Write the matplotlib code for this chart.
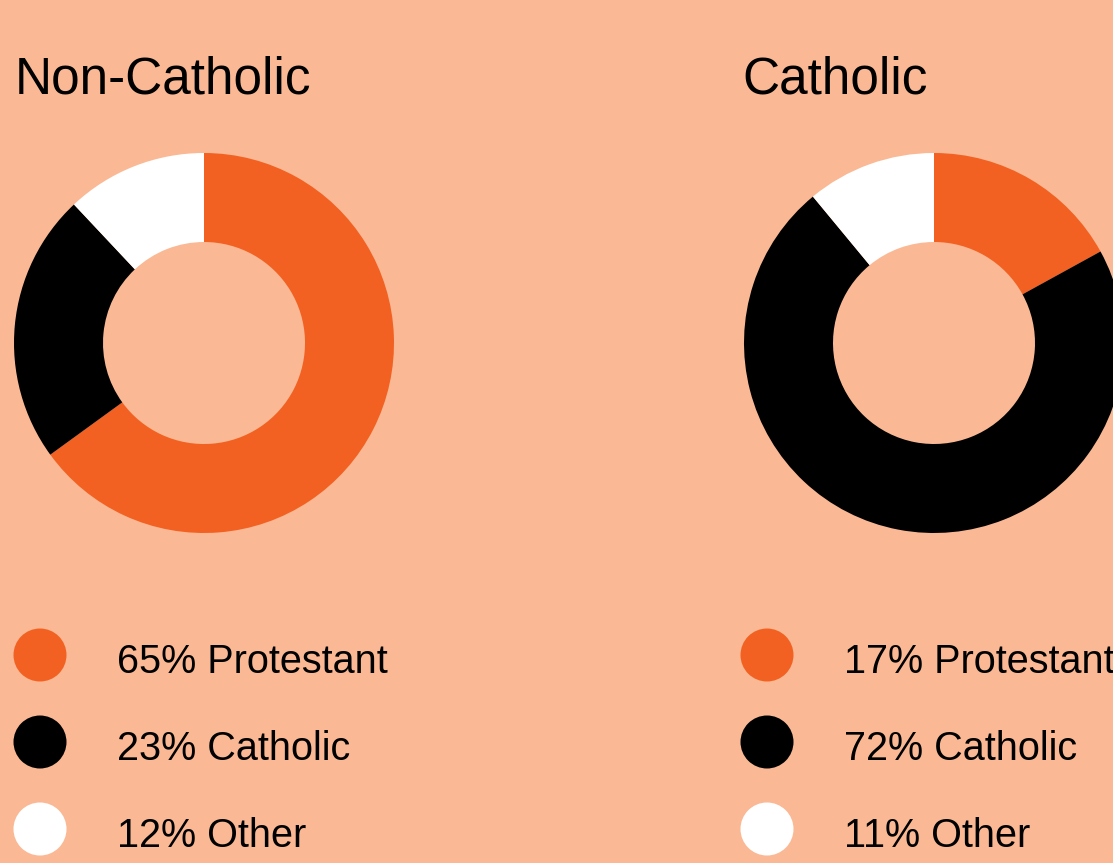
import matplotlib.pyplot as plt

# data
labels = ["Protestant", "Catholic", "Other"]
groups = ["Non-Catholic", "Catholic"]
shares = {
    "Non-Catholic": [65, 23, 12],
    "Catholic": [17, 72, 11],
}
colors = ["#F26122", "#000000", "#FFFFFF"]
bg = "#FAB994"

W, H = 1113, 863
fig = plt.figure(figsize=(W / 100, H / 100), dpi=100, facecolor=bg)
ax = fig.add_axes([0, 0, 1, 1])
ax.set_facecolor(bg)

font = "Liberation Sans"
x_left = [15, 742]
centers_x = [204, 934]

for i, g in enumerate(groups):
    cx = centers_x[i]
    ax.pie(shares[g], colors=colors, startangle=90, counterclock=False,
           center=(cx, H - 343), radius=190,
           wedgeprops=dict(width=89, linewidth=0))
    ax.text(x_left[i], H - 94, g, fontsize=37, family=font, va="baseline",
            ha="left", color="black")

    # legend
    for j, lab in enumerate(labels):
        y = H - (655 + j * 87)
        ax.add_patch(plt.Circle((x_left[i] + 25, y), 26.5, color=colors[j], lw=0))
        ax.text(x_left[i] + 102, H - (673 + j * 87), f"{shares[g][j]}% {lab}",
                fontsize=28.5, family=font, va="baseline", ha="left", color="black")

ax.set_xlim(0, W)
ax.set_ylim(0, H)
ax.set_aspect("equal")
ax.axis("off")

plt.savefig("out.png", dpi=100, facecolor=bg)
